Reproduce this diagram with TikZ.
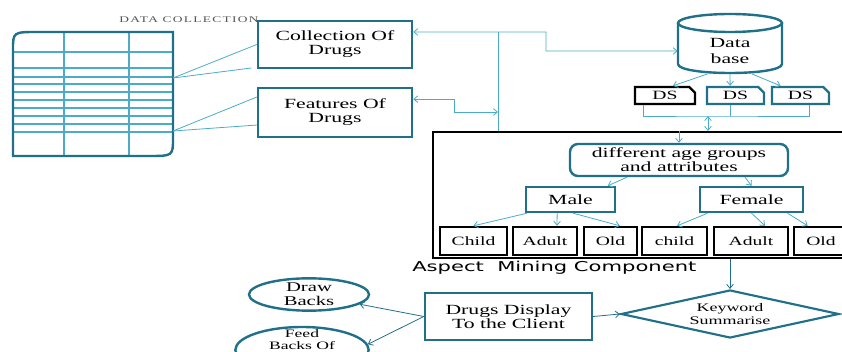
\documentclass[tikz,border=0pt]{standalone}
\usepackage{fontspec}
\setmainfont{Liberation Serif}[FakeStretch=1.55]
\newfontfamily\labelfont{DejaVu Sans}[FakeStretch=1.55]
\usetikzlibrary{shapes.geometric,shapes.misc,arrows.meta}
\definecolor{boxteal}{RGB}{31,112,136}
\definecolor{linkblue}{RGB}{75,172,198}
\definecolor{capgray}{RGB}{85,85,85}

\begin{document}
\begin{tikzpicture}[x=0.75pt, y=-0.75pt, font=\fontsize{10.5}{10.5}\selectfont,
  >={Straight Barb[length=3pt,width=5pt]},
  tbox/.style={draw=boxteal, line width=1.8pt, align=center, inner sep=0pt},
  leaf/.style={draw=black, line width=1.8pt, inner sep=0pt, minimum height=21pt, font=\fontsize{9.5}{10}\selectfont},
  dsbox/.style={chamfered rectangle, chamfered rectangle corners=north east, chamfered rectangle xsep=1.3pt,
    line width=1.8pt, inner sep=0pt, minimum height=12.75pt, font=\fontsize{9.5}{10}\selectfont},
  oval/.style={ellipse, draw=boxteal, line width=1.8pt, inner sep=0pt, align=center},
  link/.style={draw=linkblue, line width=0.6pt},
  dlink/.style={draw=boxteal, line width=0.6pt}]
  \useasboundingbox (0,0) rectangle (842,352);
  \clip (0,0) rectangle (842,352);

  \foreach \y in {52,68,77,84,92,100,108,116,124,132}
    \draw[linkblue, line width=0.8pt] (14,\y) -- (172,\y);
  \foreach \x in {64,129}
    \draw[linkblue, line width=0.8pt] (\x,33) -- (\x,155);
  \draw[boxteal, line width=1.8pt] (13,156) -- (13,50) .. controls (13,32) .. (38,32) -- (173,32) -- (173,138) .. controls (173,156) .. (148,156) -- cycle;
  \node[font=\fontsize{6.5}{7}\selectfont\addfontfeature{LetterSpace=15}, text=capgray] (dctitle) at (189,20) {DATA COLLECTION};
  \coordinate (tab1) at (173,78);
  \coordinate (tab2) at (173,131);

  \node[tbox, minimum width=115.5pt, minimum height=35.25pt] (coll) at (335,44.5) {Collection Of\\Drugs};
  \node[tbox, minimum width=115.5pt, minimum height=36.75pt] (feat) at (335,112.5) {Features Of\\Drugs};
  \draw[link] (tab1) -- (coll.west);
  \draw[link] (tab1) -- ([xshift=-4pt,yshift=-17.6pt]coll.west);
  \draw[link] (tab2) -- ([yshift=11.6pt]feat.west);
  \draw[link] (tab2) -- ([yshift=-9.4pt]feat.west);

  \draw[boxteal, line width=1.8pt] (730,23) ellipse[x radius=52, y radius=9];
  \draw[boxteal, line width=1.8pt] (678,23) -- (678,64) .. controls (678,76) and (782,76) .. (782,64) -- (782,23);
  \node[minimum width=78pt, inner sep=0pt, align=center, font=\fontsize{10.5}{11.5}\selectfont] (db) at (730,51) {Data\\base};
  \coordinate (dbbot) at (730,74);

  \node[dsbox, draw=black, minimum width=45pt] (ds1) at (665,95.5) {DS};
  \node[dsbox, draw=boxteal, minimum width=42.75pt] (ds2) at (735.5,95.5) {DS};
  \node[dsbox, draw=boxteal, minimum width=42.75pt] (ds3) at (800.5,95.5) {DS};
  \draw[link,->] ([xshift=-17pt]dbbot) -- ([xshift=6pt]ds1.north);
  \draw[link,->] (dbbot) -- ([xshift=-4pt]ds2.north);
  \draw[link,->] ([xshift=16.5pt]dbbot) -- ([xshift=-15pt]ds3.north);

  \node[draw=black, line width=1.6pt, inner sep=0pt, minimum width=312.75pt, minimum height=94.5pt] (aspect) at (641.5,195) {};
  \node[anchor=west, inner sep=0pt, font=\labelfont\fontsize{10.2}{12}\selectfont] (aspectlbl) at (412,268) {Aspect\ \ Mining Component};

  \coordinate (bus) at (498,32);
  \coordinate (busin) at (498,112);
  \draw[link,<->] ([yshift=9.4pt]coll.east) -- (546,32) |- (db.west);
  \draw[link] (bus) -- (bus |- aspect.north);
  \draw[link,<->] ([yshift=10pt]feat.east) -| (454,112) -- (busin);

  \coordinate (dsjoin) at (708,116);
  \draw[link] ([xshift=-16.5pt]ds1.south) |- (dsjoin) -| ([xshift=6.4pt]ds3.south);
  \draw[link] ([xshift=-4pt]ds2.south) -- ([xshift=-4pt]ds2.south |- dsjoin);
  \draw[link,<->] (dsjoin) -- (dsjoin |- aspect.north);

  \node[tbox, rounded corners=6pt, minimum width=163.5pt, minimum height=24pt] (diff) at (679,160) {different age groups\\and attributes};
  \node[tbox, minimum width=66.75pt, minimum height=18.75pt] (male) at (570.5,199.5) {Male};
  \node[tbox, minimum width=77.25pt, minimum height=18.75pt] (female) at (751.5,199.5) {Female};
  \draw[link,->] (diff.north |- aspect.north) -- (diff.north);
  \draw[link,->] ([xshift=-39pt]diff.south) -- ([xshift=28pt]male.north);
  \draw[link,->] ([xshift=49.5pt]diff.south) -- (female.north);

  \foreach \n/\x/\w/\t in {mc/473.5/50.25/Child, ma/545/48/Adult, mo/610.5/39.75/Old, fc/674.5/48.75/child, fa/751/55.5/Adult, fo/821/40.5/Old}
    \node[leaf, minimum width=\w pt] (\n) at (\x,241) {\t};
  \foreach \s/\t/\d in {-32.6/mc/0, -10/ma/9, 2/mo/7}
    \draw[link,->] ([xshift=\s pt]male.south) -- ([xshift=\d pt]\t.north);
  \foreach \s/\t/\d in {-33/fc/2, 0/fa/10.5, 27/fo/-10}
    \draw[link,->] ([xshift=\s pt]female.south) -- ([xshift=\d pt]\t.north);

  \node[diamond, draw=boxteal, line width=1.6pt, aspect=4.5, inner sep=0pt, minimum width=163.5pt, minimum height=36pt, align=center, font=\fontsize{8.7}{9.5}\selectfont] (kw) at (730,314) {Keyword\\Summarise};
  \node[tbox, minimum width=125.25pt, minimum height=35.25pt] (disp) at (508.5,316.5) {Drugs Display\\To the Client};
  \node[oval, minimum width=90pt, minimum height=23.25pt, font=\fontsize{10}{10.5}\selectfont] (drawb) at (309,294.5) {Draw\\Backs};
  \node[oval, minimum width=100pt, minimum height=34.5pt] (feedb) at (302,350) {};
  \node[align=center, inner sep=0pt, font=\fontsize{8.5}{8.5}\selectfont] (feedtxt) at (302,339.5) {Feed\\Backs Of};

  \draw[dlink,->] (kw.north |- aspect.south) -- (kw.north);
  \draw[dlink,->] (disp.east) -- (kw.west);
  \draw[dlink,->] (disp.west) -- (drawb);
  \draw[dlink,->] (disp.west) -- (feedb.5);
\end{tikzpicture}
\end{document}
